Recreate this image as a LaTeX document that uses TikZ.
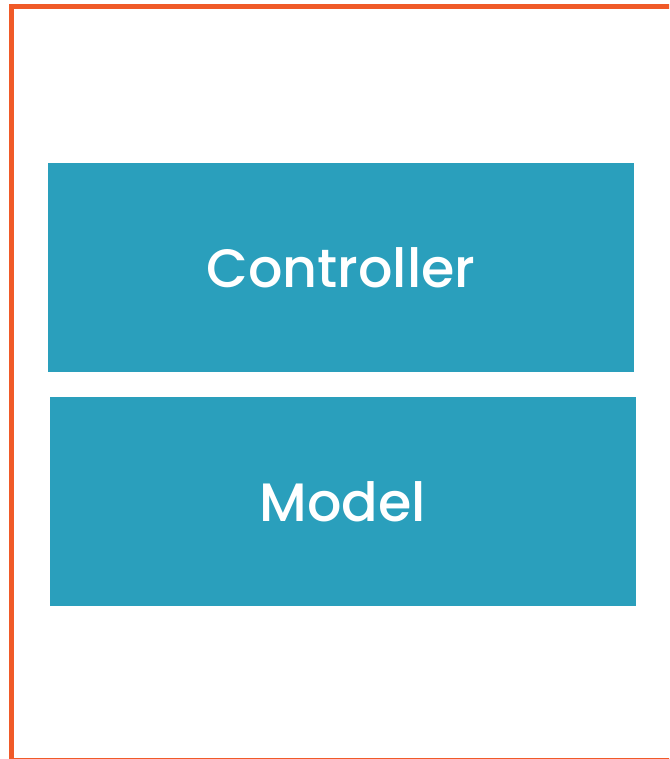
\documentclass[tikz,border=0pt]{standalone}
\usepackage{fontspec}
\setsansfont{Poppins}[UprightFont={* Medium}]
\definecolor{frameorange}{HTML}{F05A28}
\definecolor{layerblue}{HTML}{2A9FBC}

\begin{document}
\begin{tikzpicture}[x=1pt,y=1pt,
    layer/.style={fill=layerblue, text=white, minimum width=586pt, minimum height=209pt,
        inner sep=0pt, font=\sffamily\fontsize{54}{58}\selectfont}]
    \useasboundingbox (0,0) rectangle (669,759);
    \clip (0,0) rectangle (669,759);

    % outer frame
    \draw[frameorange, line width=5pt] (11,-1.5) rectangle (700,752);

    \node[layer] (controller) at (341,491) {Controller};
    \node[layer] (model) at (343,257.5) {Model};
\end{tikzpicture}
\end{document}
